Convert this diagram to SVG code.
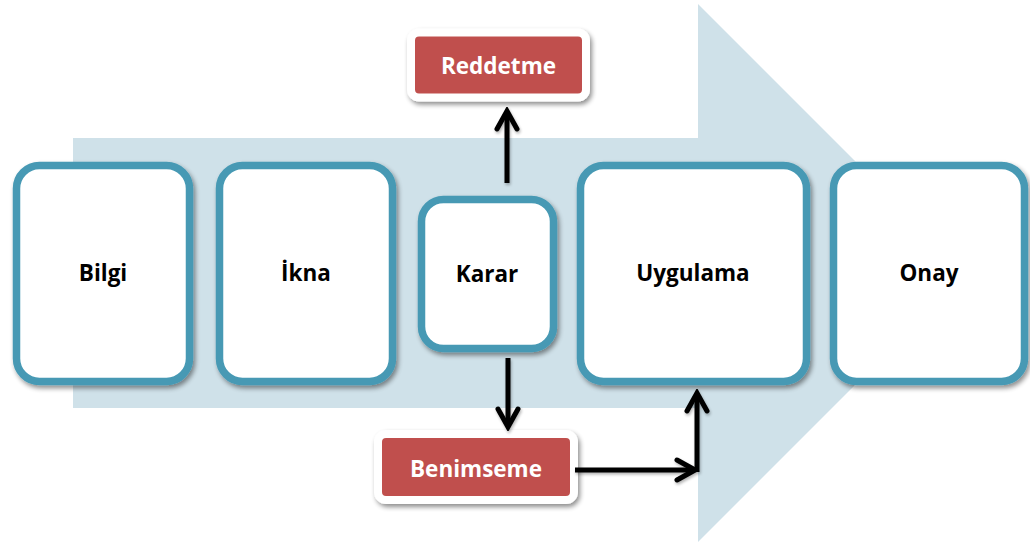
<svg xmlns="http://www.w3.org/2000/svg" width="1030" height="544" viewBox="0 0 1030 544">
  <defs>
    <style>
      .stage { fill: #ffffff; stroke: #4699b4; stroke-width: 7.5; filter: url(#shadow); }
      .result { fill: #c0504d; stroke: #ffffff; stroke-width: 8; filter: url(#shadow); }
      .label { font-family: "Open Sans", "Noto Sans", "DejaVu Sans", sans-serif; font-weight: 700; font-size: 22.5px; text-anchor: middle; fill: #000000; }
      .label-light { fill: #ffffff; }
      .link { fill: none; stroke: #000000; stroke-width: 5; }
    </style>
    <filter id="shadow" x="-20%" y="-20%" width="140%" height="150%">
      <feGaussianBlur in="SourceAlpha" stdDeviation="2.5"/>
      <feOffset dx="1.5" dy="3" result="blur"/>
      <feComponentTransfer><feFuncA type="linear" slope="0.45"/></feComponentTransfer>
      <feMerge><feMergeNode/><feMergeNode in="SourceGraphic"/></feMerge>
    </filter>
    <!-- user-space region so straight (zero-width) lines still get a shadow -->
    <filter id="lineshadow" filterUnits="userSpaceOnUse" x="0" y="0" width="1030" height="544">
      <feGaussianBlur in="SourceAlpha" stdDeviation="1.5"/>
      <feOffset dx="1" dy="2" result="blur"/>
      <feComponentTransfer><feFuncA type="linear" slope="0.3"/></feComponentTransfer>
      <feMerge><feMergeNode/><feMergeNode in="SourceGraphic"/></feMerge>
    </filter>
    <marker id="chevron" viewBox="-22 -14 26 28" markerWidth="26" markerHeight="28" refX="0" refY="0" orient="auto" markerUnits="userSpaceOnUse">
      <path d="M-18,-10 L0,0 L-18,10" fill="none" stroke="#000000" stroke-width="5" stroke-linecap="round" stroke-linejoin="miter"/>
    </marker>
  </defs>

  <!-- background process arrow -->
  <path id="flow-arrow" d="M73,138 L698,138 L698,4 L967,273 L698,542 L698,408 L73,408 Z" fill="#cfe1e9"/>

  <!-- stages -->
  <g id="bilgi">
    <rect class="stage" x="16.5" y="165.5" width="173" height="216" rx="23"/>
    <text class="label" x="103" y="281">Bilgi</text>
  </g>
  <g id="ikna">
    <rect class="stage" x="219.5" y="165.5" width="173" height="216" rx="23"/>
    <text class="label" x="306" y="281">İkna</text>
  </g>
  <g id="karar">
    <rect class="stage" x="421.5" y="199.5" width="132" height="149" rx="22"/>
    <text class="label" x="487" y="282">Karar</text>
  </g>
  <g id="uygulama">
    <rect class="stage" x="580.5" y="165.5" width="226" height="216" rx="23"/>
    <text class="label" x="693" y="281">Uygulama</text>
  </g>
  <g id="onay">
    <rect class="stage" x="833.5" y="165.5" width="191" height="216" rx="23"/>
    <text class="label" x="929" y="281">Onay</text>
  </g>

  <!-- outcomes -->
  <g id="reddetme">
    <rect class="result" x="411" y="32.5" width="175" height="65" rx="8"/>
    <text class="label label-light" x="498.5" y="74">Reddetme</text>
  </g>
  <g id="benimseme">
    <rect class="result" x="378" y="434" width="196" height="66" rx="8"/>
    <text class="label label-light" x="476" y="477">Benimseme</text>
  </g>

  <!-- connectors -->
  <g id="connectors" filter="url(#lineshadow)">
    <path class="link" d="M507,183 L507,111" marker-end="url(#chevron)"/>
    <path class="link" d="M508,358 L508,427" marker-end="url(#chevron)"/>
    <path class="link" d="M575,470 L695,470" marker-end="url(#chevron)"/>
    <path class="link" d="M697,472 L697,393" marker-end="url(#chevron)"/>
  </g>
</svg>
